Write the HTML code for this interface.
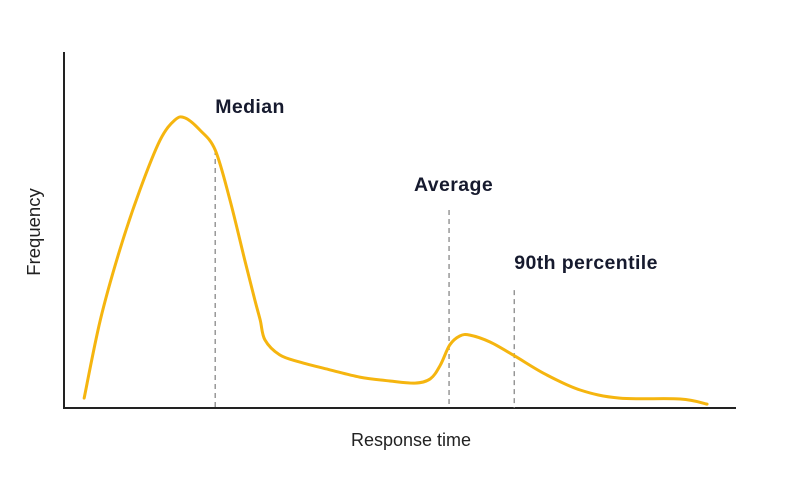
<!DOCTYPE html>
<html><head><meta charset="utf-8"><style>
html,body{margin:0;padding:0;background:#fff;}
svg{display:block;font-family:"Liberation Sans",sans-serif;}
</style></head><body>
<svg id="chart" width="800" height="493" viewBox="0 0 800 493">
<line x1="64" y1="52" x2="64" y2="409" stroke="#222" stroke-width="2"/>
<line x1="63" y1="408" x2="736" y2="408" stroke="#222" stroke-width="2"/>
<text transform="translate(40,232) rotate(-90)" text-anchor="middle" font-size="18.5" fill="#222">Frequency</text>
<text x="411" y="446" text-anchor="middle" font-size="18" fill="#222">Response time</text>
<g id="marks"></g>
</svg>
<script>
const xs=[3,5.4,8.3,11.3,14.3,16.5,18,20.2,22.5,24.7,26.9,28.4,29.2,29.9,32.1,35.1,39.6,44,48.5,52.2,54.5,56,57.4,58.9,60.4,63.4,67.1,71.6,76.8,82.7,91.7,95.7];
const freq=[3.3,29.3,52.7,72.7,89.3,96,96.7,92.7,86,69.3,49.3,36,29.3,22.7,17.7,15.3,12.7,10.3,9,8.3,9.7,14.3,21,24,24.3,22,17.3,11.3,6,3.3,3,1.3];
const markerNames=["Median","Average","90th percentile"];
const markerX=[22.5,57.3,67];
const markerTop=[86,66,39.3];
const ns="http://www.w3.org/2000/svg";
function sx(v){return 64+v*6.72;}
function sy(v){return 408-v*3;}
const labelGap=[37,19,21];
const labelShift=[0,-35,0];
const g=document.getElementById('marks');
const pts=xs.map((x,i)=>[sx(x),sy(freq[i])]);
let d="M"+pts[0][0]+","+pts[0][1];
for(let i=0;i<pts.length-1;i++){
 const p0=pts[Math.max(0,i-1)],p1=pts[i],p2=pts[i+1],p3=pts[Math.min(pts.length-1,i+2)];
 const c1=[p1[0]+(p2[0]-p0[0])/6,p1[1]+(p2[1]-p0[1])/6];
 const c2=[p2[0]-(p3[0]-p1[0])/6,p2[1]-(p3[1]-p1[1])/6];
 d+=" C"+c1[0]+","+c1[1]+" "+c2[0]+","+c2[1]+" "+p2[0]+","+p2[1];
}
markerX.forEach((m,i)=>{
 const l=document.createElementNS(ns,'line');
 
 
 l.setAttribute('x1',sx(m));l.setAttribute('x2',sx(m));
 l.setAttribute('y1',sy(markerTop[i]));l.setAttribute('y2',408);
 l.setAttribute('stroke','#888');l.setAttribute('stroke-width','1.3');l.setAttribute('stroke-dasharray','5,4');
 g.appendChild(l);
 const t=document.createElementNS(ns,'text');
 
 
 t.setAttribute('x',sx(m)+labelShift[i]);
 t.setAttribute('y',sy(markerTop[i])-labelGap[i]);
 t.setAttribute('font-size','19.5');t.setAttribute('font-weight','bold');t.setAttribute('fill','#161a2e');
 t.setAttribute('letter-spacing','0.4');
 t.textContent=markerNames[i];
 g.appendChild(t);
});
const p=document.createElementNS(ns,'path');


p.setAttribute('d',d);p.setAttribute('fill','none');p.setAttribute('stroke','#F5B50F');p.setAttribute('stroke-width','3');p.setAttribute('stroke-linecap','round');
g.appendChild(p);
</script>
</body></html>
